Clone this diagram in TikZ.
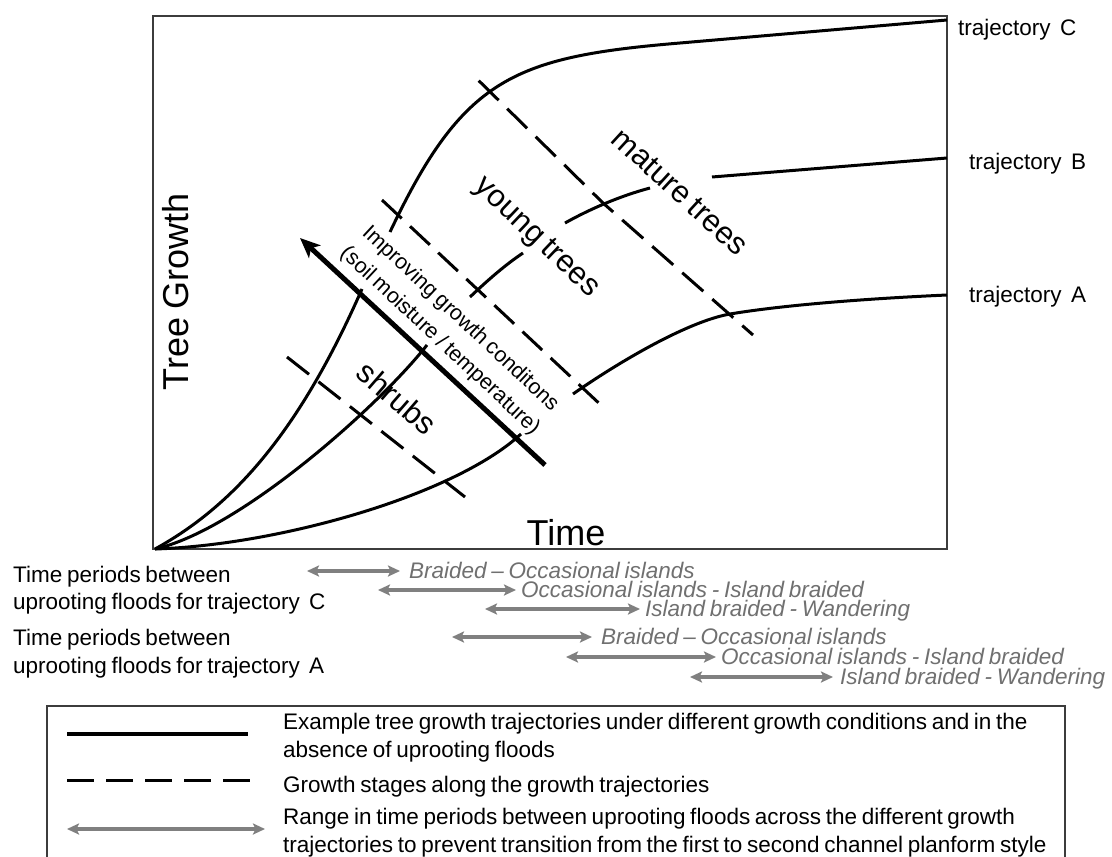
\documentclass[tikz,border=0pt]{standalone}
\usepackage{fontspec}
\setmainfont{Liberation Sans}[WordSpace=0.75]
\usetikzlibrary{arrows.meta}
\definecolor{rangegray}{RGB}{128,128,128}
\definecolor{rangetext}{RGB}{112,112,112}
\definecolor{framegray}{RGB}{60,60,60}
\begin{document}
\begin{tikzpicture}[x=1pt,y=-1pt,
  traj/.style={line width=3pt, line join=round},
  stage/.style={line width=3pt, dash pattern=on 28pt off 12pt},
  rangearrow/.style={rangegray, line width=3.2pt,
    {Stealth[length=12pt,width=11pt,inset=2.5pt]}-{Stealth[length=12pt,width=11pt,inset=2.5pt]}},
  txt/.style={inner sep=0pt, anchor=base west, font=\fontsize{22.5}{27}\selectfont},
  rangetxt/.style={txt, text=rangetext, font=\fontsize{22.5}{27}\selectfont\itshape},
  stagetxt/.style={inner sep=0pt, font=\fontsize{31}{36}\selectfont},
  axistxt/.style={inner sep=0pt, anchor=base, font=\fontsize{36}{40}\selectfont},
  frame/.style={framegray, line width=1.3pt}
]
\useasboundingbox[fill=white] (0,0) rectangle (1112,857);

% plot frame
\draw[frame] (153,16) rectangle (947,549);

% axis titles
\node[axistxt, rotate=90] (ylab) at (188,292) {Tree Growth};
\node[axistxt] (xlab) at (566,545) {Time};

% growth-stage boundaries
\draw[stage] (287,357) -- (465,497);
\draw[stage, dash pattern=on 27pt off 11.5pt] (382,200) -- (603,407);
\draw[stage, dash phase=32pt] (473,75) -- (603,203) -- (753,335);

% trajectory C
\draw[traj] (155,549) .. controls (235,505) and (300,430) .. (362,289);
\draw[traj] (390,232) .. controls (463,78) and (513,57) .. (680,43) -- (947,20);

% trajectory B
\draw[traj] (155,549) .. controls (240,530) and (380,405) .. (427,345);
\draw[traj] (470,297) .. controls (488,280) and (505,265) .. (523,253);
\draw[traj] (565,223) .. controls (590,209) and (620,196) .. (650,188);
\draw[traj] (712,177) -- (947,158);

% trajectory A
\draw[traj] (155,549) .. controls (280,545) and (455,495) .. (521,434);
\draw[traj] (573,394) .. controls (613,366) and (685,322) .. (730,314)
  .. controls (790,304) and (880,298) .. (947,295);

% growth-condition gradient
\coordinate (gcfrom) at (545,465);
\coordinate (gcto) at (300,238);
\draw[line width=5pt, -{Stealth[length=20pt,width=17pt,inset=5pt]}] (gcfrom) -- (gcto);
\node[inner sep=0pt, rotate=-43, align=center,
  font=\fontsize{21.5}{30}\selectfont] (gclab) at (450,330)
  {Improving growth conditons\\(soil moisture / temperature)};

% stage labels
\node[stagetxt, rotate=-41] (shrubs) at (397,398) {shrubs};
\node[stagetxt, rotate=-43.5] (young) at (536,238) {young trees};
\node[stagetxt, rotate=-42.5] (mature) at (680,192) {mature trees};

% trajectory labels
\node[txt] (labC) at (958,35) {trajectory\ \ C};
\node[txt] (labB) at (969,169) {trajectory\ \ B};
\node[txt] (labA) at (969,302) {trajectory\ \ A};

% flood return periods, trajectory C
\node[txt] (pc1) at (13,582) {Time periods between};
\node[txt] (pc2) at (13,609) {uprooting floods for trajectory\ \ C};
\coordinate (c1a) at (307,571); \coordinate (c1b) at (400,571);
\coordinate (c2a) at (378,590); \coordinate (c2b) at (516,590);
\coordinate (c3a) at (485,609); \coordinate (c3b) at (640,609);
\draw[rangearrow] (c1a) -- (c1b);
\draw[rangearrow] (c2a) -- (c2b);
\draw[rangearrow] (c3a) -- (c3b);
\node[rangetxt] (c1t) at (409,578) {Braided – Occasional islands};
\node[rangetxt] (c2t) at (521,597) {Occasional islands - Island braided};
\node[rangetxt] (c3t) at (645,616) {Island braided - Wandering};

% flood return periods, trajectory A
\node[txt] (pa1) at (13,645) {Time periods between};
\node[txt] (pa2) at (13,673) {uprooting floods for trajectory\ \ A};
\coordinate (a1a) at (452,637); \coordinate (a1b) at (592,637);
\coordinate (a2a) at (566,657); \coordinate (a2b) at (716,657);
\coordinate (a3a) at (690,677); \coordinate (a3b) at (833,677);
\draw[rangearrow] (a1a) -- (a1b);
\draw[rangearrow] (a2a) -- (a2b);
\draw[rangearrow] (a3a) -- (a3b);
\node[rangetxt] (a1t) at (601,644) {Braided – Occasional islands};
\node[rangetxt] (a2t) at (721,664) {Occasional islands - Island braided};
\node[rangetxt] (a3t) at (840,684) {Island braided - Wandering};

% legend
\draw[frame] (47,880) -- (47,706) -- (1065,706) -- (1065,880);
\coordinate (k1a) at (67,734); \coordinate (k1b) at (248,734);
\coordinate (k2a) at (67,780); \coordinate (k2b) at (250,780);
\coordinate (k3a) at (67,829); \coordinate (k3b) at (265,829);
\draw[traj, line width=3.5pt] (k1a) -- (k1b);
\draw[stage, dash pattern=on 27pt off 12pt] (k2a) -- (k2b);
\draw[rangearrow] (k3a) -- (k3b);
\node[txt] (k1t1) at (283,729) {Example tree growth trajectories under different growth conditions and in the};
\node[txt] (k1t2) at (283,757) {absence of uprooting floods};
\node[txt] (k2t) at (283,792) {Growth stages along the growth trajectories};
\node[txt] (k3t1) at (283,824) {Range in time periods between uprooting floods across the different growth};
\node[txt] (k3t2) at (283,852) {trajectories to prevent transition from the first to second channel planform style};
\end{tikzpicture}
\end{document}
